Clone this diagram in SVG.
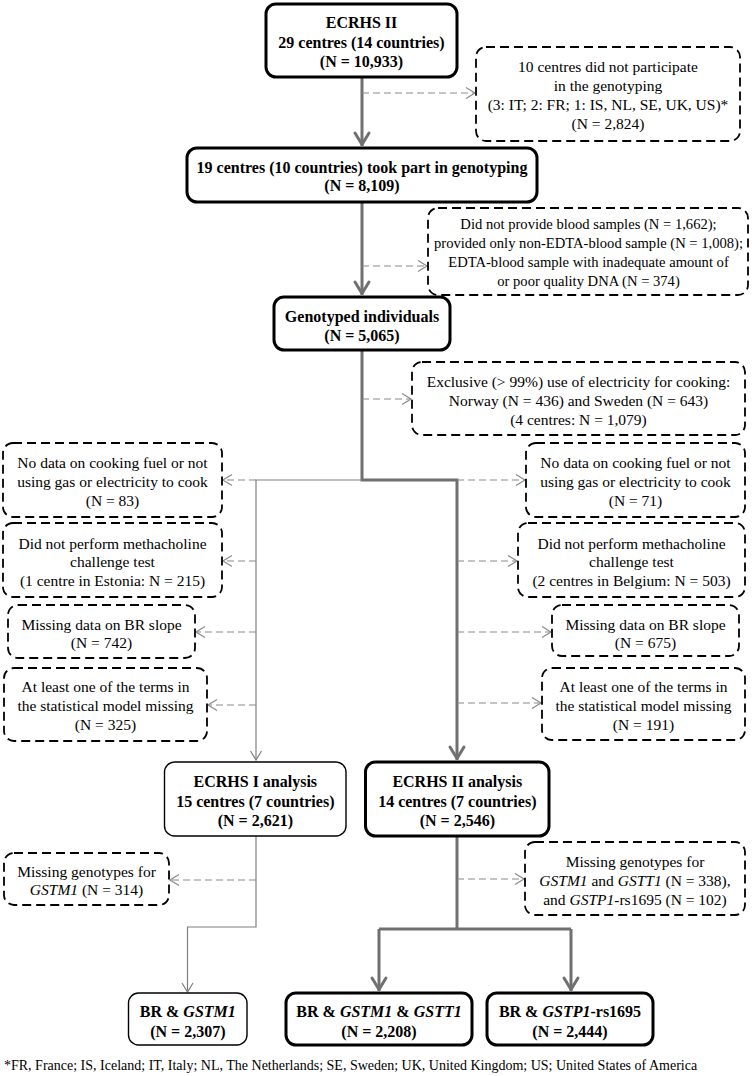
<svg xmlns="http://www.w3.org/2000/svg" width="752" height="1076" viewBox="0 0 752 1076">
<style>
.bt{fill:#fff;stroke:#000;stroke-width:3}
.bn{fill:#fff;stroke:#000;stroke-width:1.4}
.bd{fill:#fff;stroke:#000;stroke-width:1.8;stroke-dasharray:9 5}
text{font-family:"Liberation Serif","Times New Roman",serif;font-size:15.5px;fill:#000;text-anchor:middle}
.b{font-weight:bold;font-size:16px}
.i{font-style:italic}
.s{font-size:14.6px}
.fn{font-size:14px;text-anchor:start}
.ct{stroke:#707070;stroke-width:3;fill:none}
.cn{stroke:#808080;stroke-width:1.2;fill:none}
.cd{stroke:#8a8a8a;stroke-width:1.2;stroke-dasharray:7 4;fill:none}
</style>
<defs>
<marker id="mT" markerUnits="userSpaceOnUse" viewBox="-16 -10 18 20" refX="0" refY="0" markerWidth="18" markerHeight="20" orient="auto" overflow="visible">
<path d="M-13,-7 L-1.5,0 L-13,7" fill="none" stroke="#707070" stroke-width="3" stroke-linejoin="round" stroke-linecap="round"/>
</marker>
<marker id="mN" markerUnits="userSpaceOnUse" viewBox="-12 -7 14 14" refX="0" refY="0" markerWidth="14" markerHeight="14" orient="auto" overflow="visible">
<path d="M-9,-5.5 L0,0 L-9,5.5" fill="none" stroke="#808080" stroke-width="1.2"/>
</marker>
<marker id="mD" markerUnits="userSpaceOnUse" viewBox="-12 -7 14 14" refX="0" refY="0" markerWidth="14" markerHeight="14" orient="auto" overflow="visible">
<path d="M-9,-5.5 L0,0 L-9,5.5" fill="none" stroke="#8a8a8a" stroke-width="1.2"/>
</marker>
</defs>

<g id="connectors">
<path class="ct" d="M362,77 V146" marker-end="url(#mT)"/>
<path class="ct" d="M362,202 V295" marker-end="url(#mT)"/>
<path class="ct" d="M362,350 V480 H457 V760" marker-end="url(#mT)"/>
<path class="cn" d="M362,480 H256 V760" marker-end="url(#mN)"/>
<path class="cn" d="M256,836 V927 H187.5 V992" marker-end="url(#mN)"/>
<path class="ct" d="M457,836 V929"/>
<path class="ct" d="M379,929 H571"/>
<path class="ct" d="M379,929 V991" marker-end="url(#mT)"/>
<path class="ct" d="M571,929 V991" marker-end="url(#mT)"/>
<path class="cd" d="M362,93 H475" marker-end="url(#mD)"/>
<path class="cd" d="M362,266 H427" marker-end="url(#mD)"/>
<path class="cd" d="M362,399 H411" marker-end="url(#mD)"/>
<path class="cd" d="M256,480 H223" marker-end="url(#mD)"/>
<path class="cd" d="M457,480 H525" marker-end="url(#mD)"/>
<path class="cd" d="M256,561 H223" marker-end="url(#mD)"/>
<path class="cd" d="M457,561 H517" marker-end="url(#mD)"/>
<path class="cd" d="M256,632 H196" marker-end="url(#mD)"/>
<path class="cd" d="M457,632 H551" marker-end="url(#mD)"/>
<path class="cd" d="M256,705 H208" marker-end="url(#mD)"/>
<path class="cd" d="M457,703 H541" marker-end="url(#mD)"/>
<path class="cd" d="M256,880 H170" marker-end="url(#mD)"/>
<path class="cd" d="M457,879 H524" marker-end="url(#mD)"/>
</g>

<g id="n-ecrhs2">
<rect class="bt" x="266" y="4" width="191" height="73" rx="10"/>
<text class="b" x="361.5" y="28">ECRHS II</text>
<text class="b" x="361.5" y="47.5">29 centres (14 countries)</text>
<text class="b" x="361.5" y="67">(N = 10,933)</text>
</g>

<g id="x-notgeno">
<rect class="bd" x="476" y="47" width="264" height="94" rx="10"/>
<text x="608" y="72">10 centres did not participate</text>
<text x="608" y="91">in the genotyping</text>
<text x="608" y="110">(3: IT; 2: FR; 1: IS, NL, SE, UK, US)*</text>
<text x="608" y="129">(N = 2,824)</text>
</g>

<g id="n-genotyping">
<rect class="bt" x="187" y="148" width="350" height="54" rx="10"/>
<text class="b" x="362" y="172.5">19 centres (10 countries) took part in genotyping</text>
<text class="b" x="362" y="191">(N = 8,109)</text>
</g>

<g id="x-blood">
<rect class="bd" x="428" y="208" width="320" height="87" rx="10"/>
<text class="s" x="588.5" y="229">Did not provide blood samples (N = 1,662);</text>
<text class="s" x="588.5" y="248">provided only non-EDTA-blood sample (N = 1,008);</text>
<text class="s" x="588.5" y="267">EDTA-blood sample with inadequate amount of</text>
<text class="s" x="588.5" y="286">or poor quality DNA (N = 374)</text>
</g>

<g id="n-genotyped">
<rect class="bt" x="274" y="297" width="176" height="53" rx="10"/>
<text class="b" x="362" y="321.5">Genotyped individuals</text>
<text class="b" x="362" y="340.5">(N = 5,065)</text>
</g>

<g id="x-electricity">
<rect class="bd" x="412" y="362" width="333" height="73" rx="10"/>
<text x="578.5" y="386.5">Exclusive (&gt; 99%) use of electricity for cooking:</text>
<text x="578.5" y="405.5">Norway (N = 436) and Sweden (N = 643)</text>
<text x="578.5" y="424.5">(4 centres: N = 1,079)</text>
</g>

<g id="x-fuel-1">
<rect class="bd" x="3" y="443" width="219" height="74" rx="10"/>
<text x="112.5" y="467.5">No data on cooking fuel or not</text>
<text x="112.5" y="486.5">using gas or electricity to cook</text>
<text x="112.5" y="505.5">(N = 83)</text>
</g>

<g id="x-fuel-2">
<rect class="bd" x="526" y="443" width="219" height="74" rx="10"/>
<text x="635.5" y="467.5">No data on cooking fuel or not</text>
<text x="635.5" y="486.5">using gas or electricity to cook</text>
<text x="635.5" y="505.5">(N = 71)</text>
</g>

<g id="x-metha-1">
<rect class="bd" x="3" y="523" width="219" height="74" rx="10"/>
<text x="112.5" y="548.5">Did not perform methacholine</text>
<text x="112.5" y="567">challenge test</text>
<text x="112.5" y="585.5">(1 centre in Estonia: N = 215)</text>
</g>

<g id="x-metha-2">
<rect class="bd" x="518" y="523" width="227" height="74" rx="10"/>
<text x="631.5" y="548.5">Did not perform methacholine</text>
<text x="631.5" y="567">challenge test</text>
<text x="631.5" y="585.5">(2 centres in Belgium: N = 503)</text>
</g>

<g id="x-br-1">
<rect class="bd" x="8" y="605" width="187" height="53" rx="10"/>
<text x="101.5" y="629.5">Missing data on BR slope</text>
<text x="101.5" y="648">(N = 742)</text>
</g>

<g id="x-br-2">
<rect class="bd" x="552" y="605" width="187" height="51" rx="10"/>
<text x="645.5" y="629.5">Missing data on BR slope</text>
<text x="645.5" y="648">(N = 675)</text>
</g>

<g id="x-terms-1">
<rect class="bd" x="4" y="668" width="203" height="73" rx="10"/>
<text x="105.5" y="692">At least one of the terms in</text>
<text x="105.5" y="710.5">the statistical model missing</text>
<text x="105.5" y="730">(N = 325)</text>
</g>

<g id="x-terms-2">
<rect class="bd" x="542" y="668" width="203" height="72" rx="10"/>
<text x="643.5" y="692">At least one of the terms in</text>
<text x="643.5" y="710.5">the statistical model missing</text>
<text x="643.5" y="730">(N = 191)</text>
</g>

<g id="n-ecrhs1-analysis">
<rect class="bn" x="164.5" y="762" width="181.5" height="74" rx="10"/>
<text class="b" x="255.3" y="787">ECRHS I analysis</text>
<text class="b" x="255.3" y="806.5">15 centres (7 countries)</text>
<text class="b" x="255.3" y="826">(N = 2,621)</text>
</g>

<g id="n-ecrhs2-analysis">
<rect class="bt" x="365.5" y="762" width="183.5" height="74" rx="10"/>
<text class="b" x="457.3" y="787">ECRHS II analysis</text>
<text class="b" x="457.3" y="806.5">14 centres (7 countries)</text>
<text class="b" x="457.3" y="826">(N = 2,546)</text>
</g>

<g id="x-geno-1">
<rect class="bd" x="4" y="853" width="165" height="52" rx="10"/>
<text x="86.5" y="876.5">Missing genotypes for</text>
<text x="86.5" y="894.5"><tspan class="i">GSTM1</tspan> (N = 314)</text>
</g>

<g id="x-geno-2">
<rect class="bd" x="525" y="842" width="220" height="73" rx="10"/>
<text x="635" y="866.5">Missing genotypes for</text>
<text x="635" y="885.5"><tspan class="i">GSTM1</tspan> and <tspan class="i">GSTT1</tspan> (N = 338),</text>
<text x="635" y="904.5">and <tspan class="i">GSTP1</tspan>-rs1695 (N = 102)</text>
</g>

<g id="n-br-gstm1">
<rect class="bn" x="128.5" y="993" width="118.5" height="52" rx="10"/>
<text class="b" x="187.8" y="1016.5">BR &amp; <tspan class="i">GSTM1</tspan></text>
<text class="b" x="187.8" y="1036.5">(N = 2,307)</text>
</g>

<g id="n-br-gstm1-gstt1">
<rect class="bt" x="286" y="993" width="186" height="52" rx="10"/>
<text class="b" x="379" y="1016.5">BR &amp; <tspan class="i">GSTM1</tspan> &amp; <tspan class="i">GSTT1</tspan></text>
<text class="b" x="379" y="1036.5">(N = 2,208)</text>
</g>

<g id="n-br-gstp1">
<rect class="bt" x="487" y="993" width="166" height="52" rx="10"/>
<text class="b" x="570" y="1016.5">BR &amp; <tspan class="i">GSTP1</tspan>-rs1695</text>
<text class="b" x="570" y="1036.5">(N = 2,444)</text>
</g>

<text class="fn" x="4" y="1070">*FR, France; IS, Iceland; IT, Italy; NL, The Netherlands; SE, Sweden; UK, United Kingdom; US; United States of America</text>
</svg>
